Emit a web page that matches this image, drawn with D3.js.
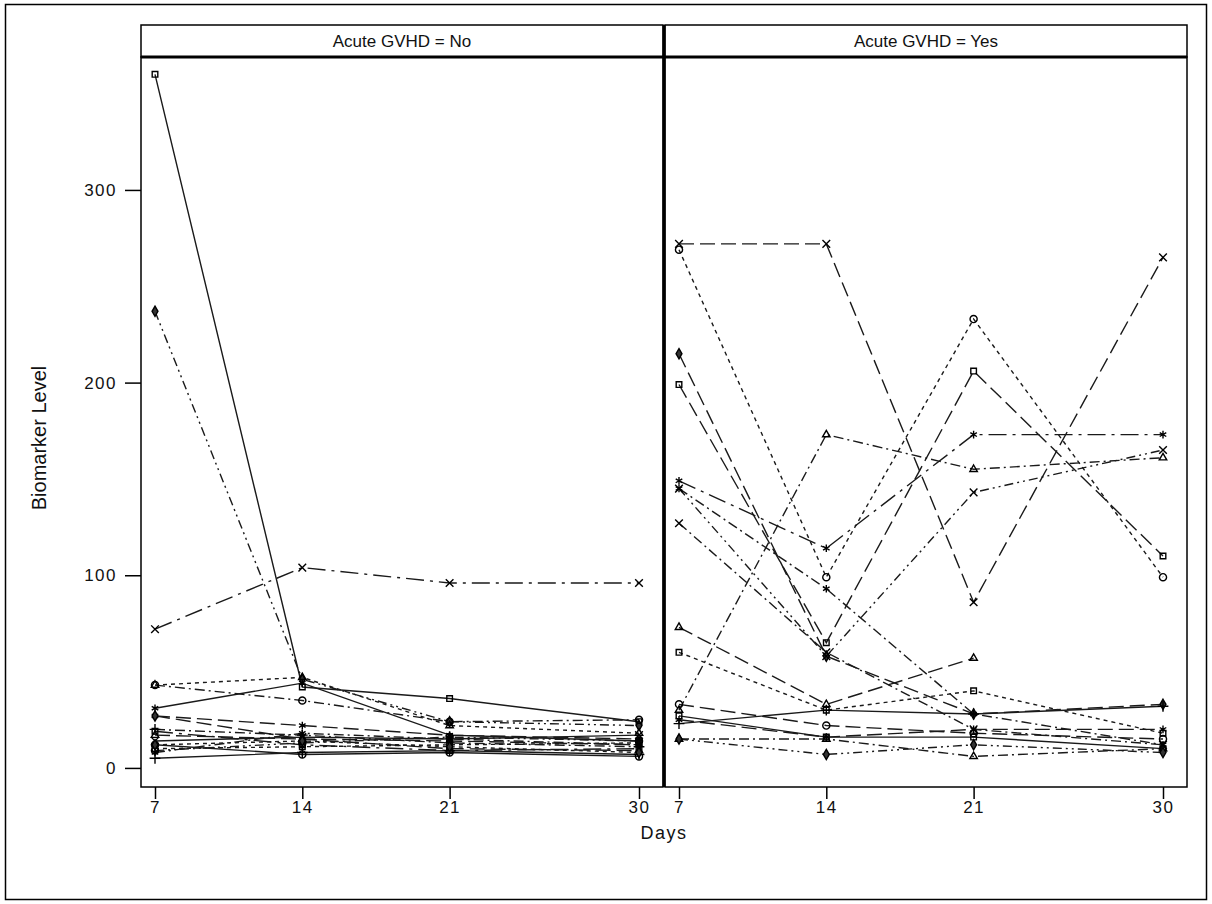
<html>
<head>
<style>
body{margin:0;background:#fff;}
text{font-family:"Liberation Sans",Arial,sans-serif;fill:#111;}
</style>
</head>
<body>
<script src="https://d3js.org/d3.v7.min.js"></script>
<script>
var width = 1212, height = 904;

let days = [7, 14, 21, 30];
let panels = ["Acute GVHD = No", "Acute GVHD = Yes"];
let yTicks = [0, 100, 200, 300];

// biomarker level per subject at days 7,14,21,30 (null = not measured)
let noValues = [
	[360, 42, 36, 24],
	[237, 46, 24, 22],
	[72, 104, 96, 96],
	[43, 47, 22, 18],
	[31, 44, 17, 14],
	[43, 35, 24, 25],
	[27, 22, 17, 15],
	[5, 8, 9, 7],
	[12, 7, 8, 6],
	[27, 15, 14, 12],
	[10, 11, 12, 13],
	[14, 16, 15, 17],
	[17, 15, 10, 9],
	[20, 17, 13, 11],
	[9, 13, 16, 14],
	[19, 12, 9, 10],
	[12, 14, 11, 8],
	[8, 18, 15, 12]
];
let yesValues = [
	[272, 272, 86, 265],
	[269, 99, 233, 99],
	[199, 65, 206, 110],
	[215, 58, 28, 33],
	[149, 114, 173, 173],
	[145, 93, 28, 12],
	[127, 60, 20, 12],
	[145, 58, 143, 165],
	[30, 173, 155, 161],
	[73, 33, 57, null],
	[60, 30, 40, 18],
	[33, 22, 18, 15],
	[23, 30, 28, 32],
	[27, 16, 16, 10],
	[15, 15, 6, 10],
	[15, 7, 12, 8],
	[25, 16, 20, 20]
];

// line / marker style cycle, one per subject row
let noStyle = [
	["square", "solid"], ["diamond", "dashdotdot"], ["times", "longdashdot"], ["triangle", "short"],
	["asterisk", "solid"], ["circle", "dashdot"], ["asterisk", "long"], ["plus", "solid"],
	["circle", "solid"], ["diamond", "long"], ["square", "short"], ["times", "solid"],
	["triangle", "long"], ["plus", "dashdot"], ["circle", "dashdotdot"], ["square", "longdashdot"],
	["diamond", "short"], ["asterisk", "dashdot"]
];
let yesStyle = [
	["times", "long"], ["circle", "short"], ["square", "long"], ["diamond", "long"],
	["asterisk", "longdashdot"], ["asterisk", "dashdot"], ["times", "dashdot"], ["times", "dashdotdot"],
	["triangle", "dashdot"], ["triangle", "long"], ["square", "short"], ["circle", "long"],
	["plus", "solid"], ["square", "solid"], ["triangle", "dashdot"], ["diamond", "dashdotdot"],
	["asterisk", "long"]
];

let dashes = {
	solid: null, short: "4,4", long: "15,6", dashdot: "10,4,2,4",
	longdashdot: "18,6,3,6", dashdotdot: "9,4,2,4,2,4"
};
let symbols = {
	square: d3.symbolSquare2, circle: d3.symbolCircle, triangle: d3.symbolTriangle2,
	diamond: d3.symbolDiamond, times: d3.symbolTimes, asterisk: d3.symbolAsterisk, plus: d3.symbolPlus
};

var svg = d3.select("body").append("svg")
	.attr("width", width).attr("height", height);

svg.append("rect").attr("x", 5.5).attr("y", 4.5).attr("width", 1201).attr("height", 895)
	.attr("fill", "none").attr("stroke", "#000").attr("stroke-width", 1.5);

let plotTop = 57, plotBottom = 787, headTop = 25;
let panelX = [[141, 663], [665, 1187]];

var yscale = d3.scaleLinear().domain([-9.9, 369]).range([plotBottom, plotTop]);

let data = [noValues, yesValues];
let styles = [noStyle, yesStyle];

panels.forEach((title, p) => {
	let x0 = panelX[p][0], x1 = panelX[p][1];
	var xscale = d3.scaleLinear().domain([7, 30]).range([x0 + 14, x1 - 24]);
	let g = svg.append("g");

	// lines
	var line = d3.line()
		.defined(d => d[1] != null)
		.x(d => xscale(d[0]))
		.y(d => yscale(d[1]));
	data[p].forEach((vals, i) => {
		let pts = days.map((d, k) => [d, vals[k]]);
		g.append("path")
			.attr("d", line(pts))
			.attr("fill", "none")
			.attr("stroke", "#1a1a1a")
			.attr("stroke-width", 1.4)
			.attr("stroke-dasharray", dashes[styles[p][i][1]]);
	});
	// markers
	data[p].forEach((vals, i) => {
		let kind = styles[p][i][0];
		let sym = d3.symbol().type(symbols[kind]).size(kind == "diamond" ? 30 : 40);
		g.selectAll(null)
			.data(days.map((d, k) => [d, vals[k]]).filter(d => d[1] != null))
			.enter().append("path")
			.attr("transform", d => `translate(${xscale(d[0])},${yscale(d[1])})`)
			.attr("d", sym())
			.attr("fill", kind == "diamond" ? "#333" : "none")
			.attr("stroke", "#000")
			.attr("stroke-width", 1.4);
	});

	// frames
	svg.append("rect").attr("x", x0).attr("y", plotTop).attr("width", x1 - x0).attr("height", plotBottom - plotTop)
		.attr("fill", "none").attr("stroke", "#000").attr("stroke-width", 1.5);
	svg.append("rect").attr("x", x0).attr("y", headTop).attr("width", x1 - x0).attr("height", plotTop - headTop)
		.attr("fill", "none").attr("stroke", "#000").attr("stroke-width", 1.5);
	svg.append("line").attr("x1", x0).attr("x2", x1).attr("y1", plotTop).attr("y2", plotTop)
		.attr("stroke", "#000").attr("stroke-width", 3);
	svg.append("text").attr("x", (x0 + x1) / 2).attr("y", 47)
		.attr("text-anchor", "middle").style("font-size", "17px").text(title);

	// x axis
	let ax = svg.append("g")
		.attr("transform", `translate(0,${plotBottom})`)
		.call(d3.axisBottom(xscale).tickValues(days).tickSize(12).tickPadding(2).tickFormat(d3.format("d")));
	ax.select(".domain").remove();
	ax.selectAll("line").attr("stroke-width", 1.5);
	ax.selectAll("text").style("font-size", "17px").style("letter-spacing", "1.5px").attr("fill", "#111");
});

// divider between panels
svg.append("line").attr("x1", 664).attr("x2", 664).attr("y1", headTop).attr("y2", plotBottom)
	.attr("stroke", "#000").attr("stroke-width", 3);

let ay = svg.append("g")
	.attr("transform", "translate(141,0)")
	.call(d3.axisLeft(yscale).tickValues(yTicks).tickSize(16).tickPadding(8));
ay.select(".domain").remove();
ay.selectAll("line").attr("stroke-width", 1.5);
ay.selectAll("text").style("font-size", "17px").style("letter-spacing", "1.5px").attr("fill", "#111");

svg.append("text").attr("x", 664).attr("y", 839).attr("text-anchor", "middle")
	.style("font-size", "18px").style("letter-spacing", "1.5px").text("Days");
svg.append("text").attr("transform", "translate(46,438) rotate(-90)").attr("text-anchor", "middle")
	.style("font-size", "20px").text("Biomarker Level");
</script>
</body>
</html>
